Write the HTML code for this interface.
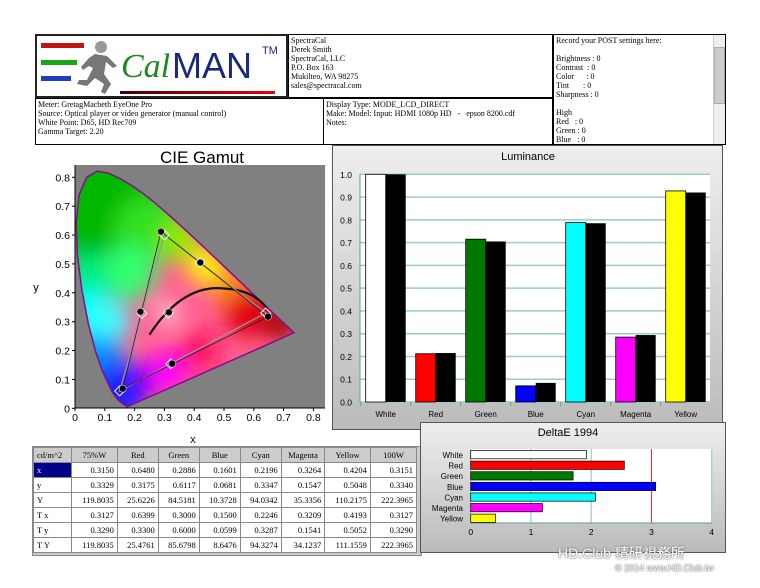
<!DOCTYPE html>
<html><head><meta charset="utf-8">
<style>
body{margin:0;width:760px;height:588px;background:#fff;position:relative;overflow:hidden;font-family:"Liberation Serif",serif;}
.b{position:absolute;border:1px solid #000;box-sizing:border-box;background:#fff;font-size:8px;line-height:9px;padding:1px 2px;color:#000;}
table{border-collapse:collapse;font-family:"Liberation Serif",serif;font-size:8.5px;}
td{border:1px solid #888;height:14px;padding:0 3px;text-align:right;}
</style></head><body>
<div class="b" style="left:35px;top:34px;width:253px;height:64px;border:2px solid #222;padding:0">
 <div style="position:absolute;left:4px;top:7px;width:43px;height:5px;background:#c01414"></div>
 <div style="position:absolute;left:4px;top:24px;width:36px;height:5px;background:#1aa51a"></div>
 <div style="position:absolute;left:4px;top:40px;width:30px;height:5px;background:#1f3fbf"></div>
 <svg style="position:absolute;left:38px;top:4px" width="44" height="56"><circle cx="26" cy="7" r="6" fill="#999"/><path d="M20 14 L32 16 L42 26 L38 28 L31 22 L29 34 L36 44 L30 54 L26 52 L29 44 L20 38 L12 46 L2 44 L4 40 L12 40 L18 28 L14 26 L8 30 L6 27 L14 18Z" fill="#777"/></svg>
 <div style="position:absolute;left:84px;top:11px;font-family:'Liberation Serif',serif;font-style:italic;font-size:34px;color:#1a8a1a;line-height:40px">Cal</div>
 <div style="position:absolute;left:135px;top:10px;font-family:'Liberation Sans',sans-serif;font-size:36px;color:#1a2a7a;line-height:40px">MAN</div>
 <div style="position:absolute;left:225px;top:11px;font-family:'Liberation Sans',sans-serif;font-size:11px;color:#1a2a7a">TM</div>
 <div style="position:absolute;left:83px;top:55px;width:155px;height:3px;background:linear-gradient(90deg,#400,#e00)"></div>
</div>
<div class="b" style="left:288px;top:34px;width:265px;height:64px">SpectraCal<br>Derek Smith<br>SpectraCal, LLC<br>P.O. Box 163<br>Mukilteo, WA 98275<br>sales@spectracal.com</div>
<div class="b" style="left:553px;top:34px;width:173px;height:111px">Record your POST settings here:<br><br>Brightness : 0<br>Contrast &nbsp;: 0<br>Color &nbsp;&nbsp;&nbsp;&nbsp;&nbsp;: 0<br>Tint &nbsp;&nbsp;&nbsp;&nbsp;&nbsp;&nbsp;: 0<br>Sharpness : 0<br><br>High<br>Red &nbsp;&nbsp;: 0<br>Green : 0<br>Blue &nbsp;&nbsp;: 0
 <div style="position:absolute;right:0;top:0;width:11px;height:109px;background:#eee;border-left:1px solid #ccc"><div style="margin-top:12px;height:55px;background:#ccc;border:1px solid #aaa"></div></div></div>
<div class="b" style="left:35px;top:98px;width:289px;height:47px">Meter: GretagMacbeth EyeOne Pro<br>Source: Optical player or video generator (manual control)<br>White Point: D65, HD Rec709<br>Gamma Target: 2.20</div>
<div class="b" style="left:323px;top:98px;width:230px;height:47px">Display Type: MODE_LCD_DIRECT<br>Make: Model: Input: HDMI 1080p HD &nbsp;&nbsp;- &nbsp;&nbsp;epson 8200.cdf<br>Notes:</div>

<svg id="cie" style="position:absolute;left:0;top:0" width="330" height="450"></svg>

<div style="position:absolute;left:332px;top:145px;width:391px;height:285px;border:1px solid #555;box-sizing:border-box;background:linear-gradient(180deg,#eee,#bbb)"></div>
<svg id="lum" style="position:absolute;left:0;top:0" width="760" height="588"></svg>

<div style="position:absolute;left:32px;top:446px;width:388px;height:108px;background:#ccc;border:1px solid #888"></div>
<table style="position:absolute;left:33px;top:447px;width:384px;background:#fff">
<tr style="background:#ccc"><td style="text-align:left">cd/m^2</td><td style="text-align:center">75%W</td><td style="text-align:center">Red</td><td style="text-align:center">Green</td><td style="text-align:center">Blue</td><td style="text-align:center">Cyan</td><td style="text-align:center">Magenta</td><td style="text-align:center">Yellow</td><td style="text-align:center">100W</td></tr>
<tr><td style="text-align:left;background:#00008b;color:#fff">x</td><td>0.3150</td><td>0.6480</td><td>0.2886</td><td>0.1601</td><td>0.2196</td><td>0.3264</td><td>0.4204</td><td>0.3151</td></tr>
<tr><td style="text-align:left">y</td><td>0.3329</td><td>0.3175</td><td>0.6117</td><td>0.0681</td><td>0.3347</td><td>0.1547</td><td>0.5048</td><td>0.3340</td></tr>
<tr><td style="text-align:left">Y</td><td>119.8035</td><td>25.6226</td><td>84.5181</td><td>10.3728</td><td>94.0342</td><td>35.3356</td><td>110.2175</td><td>222.3965</td></tr>
<tr><td style="text-align:left">T x</td><td>0.3127</td><td>0.6399</td><td>0.3000</td><td>0.1500</td><td>0.2246</td><td>0.3209</td><td>0.4193</td><td>0.3127</td></tr>
<tr><td style="text-align:left">T y</td><td>0.3290</td><td>0.3300</td><td>0.6000</td><td>0.0599</td><td>0.3287</td><td>0.1541</td><td>0.5052</td><td>0.3290</td></tr>
<tr><td style="text-align:left">T Y</td><td>119.8035</td><td>25.4761</td><td>85.6798</td><td>8.6476</td><td>94.3274</td><td>34.1237</td><td>111.1559</td><td>222.3965</td></tr>
</table>

<div style="position:absolute;left:420px;top:422px;width:306px;height:131px;border:1px solid #555;box-sizing:border-box;background:linear-gradient(180deg,#eee,#bbb)"></div>
<svg id="de" style="position:absolute;left:0;top:0" width="760" height="588"></svg>

<div style="position:absolute;left:558px;top:543px;font-family:'Liberation Sans','Noto Sans CJK TC',sans-serif;font-size:14px;color:#fff;text-shadow:0 0 2px #666,0 0 1px #666">HD.Club 精研視務所</div>
<div style="position:absolute;left:615px;top:563px;font-family:'Liberation Sans',sans-serif;font-size:9px;color:#fff;text-shadow:0 0 2px #666,0 0 1px #666">© 2014 www.HD.Club.tw</div>

<script>
const NS="http://www.w3.org/2000/svg";
function el(svg,t,a,txt){const e=document.createElementNS(NS,t);for(const k in a)e.setAttribute(k,a[k]);if(txt!==undefined)e.textContent=txt;svg.appendChild(e);return e;}
const c=document.getElementById('cie');
const X=x=>75+x*298, Y=y=>408.3-y*288.75;
c.innerHTML='<defs><clipPath id="cp"><path id="lp"/></clipPath><filter id="bl" x="-50%" y="-50%" width="200%" height="200%"><feGaussianBlur stdDeviation="11"/></filter></defs>';
el(c,'text',{x:202,y:163,'font-family':'Liberation Sans','font-size':17,'text-anchor':'middle'},'CIE Gamut');
el(c,'rect',{x:75,y:165,width:250,height:243,fill:'#808080'});
const L=[[0.1741,0.005],[0.144,0.0297],[0.1241,0.0578],[0.0913,0.1327],[0.0687,0.2007],[0.0454,0.295],[0.0235,0.4127],[0.0082,0.5384],[0.0039,0.6548],[0.0139,0.7502],[0.0389,0.812],[0.0743,0.8338],[0.1142,0.8262],[0.1547,0.8059],[0.1929,0.7816],[0.2296,0.7543],[0.2658,0.7243],[0.3016,0.6923],[0.3373,0.6589],[0.3731,0.6245],[0.4087,0.5896],[0.4441,0.5547],[0.4788,0.5202],[0.5125,0.4866],[0.5448,0.4544],[0.5752,0.4242],[0.6029,0.3965],[0.627,0.3725],[0.6482,0.3514],[0.6658,0.334],[0.6915,0.3083],[0.7347,0.2653]];
const d='M'+L.map(p=>X(p[0]).toFixed(1)+','+Y(p[1]*0.985).toFixed(1)).join('L')+'Z';
document.getElementById('lp').setAttribute('d',d);
const g=el(c,'g',{'clip-path':'url(#cp)'});
el(g,'rect',{x:75,y:165,width:250,height:243,fill:'#ff6090'});
const gb=el(g,'g',{filter:'url(#bl)'});
[[0.1,0.7,65,'#00b800'],[0.25,0.62,35,'#30e020'],[0.35,0.58,20,'#90f000'],[0.18,0.47,28,'#30ff70'],[0.04,0.45,25,'#00f080'],[0.04,0.32,28,'#00ffff'],[0.12,0.3,20,'#40ffff'],[0.08,0.17,24,'#0090ff'],[0.15,0.06,30,'#1020ff'],[0.22,0.1,18,'#5000ff'],[0.31,0.13,20,'#ff00ff'],[0.44,0.49,18,'#ffff00'],[0.52,0.42,16,'#ff9000'],[0.58,0.33,24,'#e00010'],[0.69,0.29,16,'#900000'],[0.31,0.33,10,'#ffffff'],[0.42,0.2,20,'#ff1060']].forEach(p=>el(gb,'circle',{cx:X(p[0]),cy:Y(p[1]),r:p[2],fill:p[3]}));
el(c,'path',{d:d,fill:'none',stroke:'#8a0a8a','stroke-width':1.5});
el(c,'line',{x1:75,y1:408,x2:325,y2:408,stroke:'#000'});
el(c,'line',{x1:75,y1:165,x2:75,y2:408,stroke:'#000'});
for(let i=0;i<=8;i++){const v=i/10;el(c,'text',{x:X(v),y:421,'font-family':'Liberation Sans','font-size':10.5,'text-anchor':'middle'},i==0?'0':v.toFixed(1));el(c,'line',{x1:X(v),y1:408,x2:X(v),y2:411,stroke:'#000'});
el(c,'text',{x:70,y:Y(v)+4,'font-family':'Liberation Sans','font-size':10.5,'text-anchor':'end'},i==0?'0':v.toFixed(1));el(c,'line',{x1:72,y1:Y(v),x2:75,y2:Y(v),stroke:'#000'});}
el(c,'text',{x:193,y:443,'font-family':'Liberation Sans','font-size':11,'text-anchor':'middle'},'x');
el(c,'text',{x:36,y:291,'font-family':'Liberation Sans','font-size':11,'text-anchor':'middle'},'y');
el(c,'path',{d:`M${X(0.25)},${Y(0.255)} Q${X(0.36)},${Y(0.43)} ${X(0.5)},${Y(0.415)} Q${X(0.6)},${Y(0.41)} ${X(0.645)},${Y(0.345)}`,fill:'none',stroke:'#111','stroke-width':2.2});
const M={r:[0.648,0.3175],g:[0.2886,0.6117],b:[0.1601,0.0681],c:[0.2196,0.3347],m:[0.3264,0.1547],y:[0.4204,0.5048],w:[0.315,0.3329]};
const T={r:[0.64,0.33],g:[0.3,0.6],b:[0.15,0.06],c:[0.2246,0.3287],m:[0.3209,0.1541],y:[0.4193,0.5052],w:[0.3127,0.329]};
const tri=o=>`M${X(o.r[0])},${Y(o.r[1])}L${X(o.g[0])},${Y(o.g[1])}L${X(o.b[0])},${Y(o.b[1])}Z`;
el(c,'path',{d:tri(T),fill:'none',stroke:'#999','stroke-width':1.2});
el(c,'path',{d:tri(M),fill:'none',stroke:'#222','stroke-width':0.8});
for(const k in T){const x=X(T[k][0]),y=Y(T[k][1]);el(c,'path',{d:`M${x-5},${y}L${x},${y-5}L${x+5},${y}L${x},${y+5}Z`,fill:'none',stroke:'#eee','stroke-width':1});}
for(const k in M){el(c,'circle',{cx:X(M[k][0]),cy:Y(M[k][1]),r:3.5,fill:'#000',stroke:'#ddd','stroke-width':0.6});}
const l=document.getElementById('lum');
el(l,'text',{x:528,y:160,'font-family':'Liberation Sans','font-size':11,'text-anchor':'middle'},'Luminance');
el(l,'rect',{x:360,y:174,width:350,height:228,fill:'#fff'});
const LY=v=>402-v*227.7;
for(let i=0;i<=10;i++){const v=i/10;el(l,'line',{x1:360,y1:LY(v),x2:710,y2:LY(v),stroke:'#9cc',"stroke-width":1.5});el(l,'text',{x:352,y:LY(v)+3.5,'font-family':'Liberation Sans','font-size':8.5,'text-anchor':'end'},v.toFixed(1));}
el(l,'line',{x1:360,y1:174,x2:360,y2:402,stroke:'#699'});
const bars=[['White','#fff',1,1],['Red','#f00',0.212,0.215],['Green','#007800',0.715,0.705],['Blue','#0000ff',0.071,0.084],['Cyan','#0ff',0.788,0.785],['Magenta','#f0f',0.285,0.294],['Yellow','#ff0',0.927,0.92]];
bars.forEach((b,i)=>{const x0=365.7+i*50;el(l,'rect',{x:x0,y:LY(b[2]),width:20,height:b[2]*227.7,fill:b[1],stroke:'#000','stroke-width':0.8});el(l,'rect',{x:x0+20,y:LY(b[3]),width:20,height:b[3]*227.7,fill:'#000'});
el(l,'text',{x:x0+20,y:417,'font-family':'Liberation Sans','font-size':8,'text-anchor':'middle'},b[0]);el(l,'line',{x1:x0-5,y1:402,x2:x0-5,y2:406,stroke:'#699'});});
const e=document.getElementById('de');
el(e,'text',{x:568,y:436,'font-family':'Liberation Sans','font-size':11,'text-anchor':'middle'},'DeltaE 1994');
el(e,'rect',{x:471,y:449,width:241,height:74,fill:'#fff'});
const DX=v=>470.7+v*60.25;
for(let i=0;i<=4;i++){el(e,'line',{x1:DX(i),y1:449,x2:DX(i),y2:523,stroke:i==3?'#c33':'#9cc','stroke-width':i==3?1:1.2});el(e,'text',{x:DX(i),y:535,'font-family':'Liberation Sans','font-size':8.5,'text-anchor':'middle'},i);}
el(e,'line',{x1:471,y1:523,x2:712,y2:523,stroke:'#699'});
const de=[['White','#fff',1.92],['Red','#f00',2.55],['Green','#007800',1.7],['Blue','#0000ff',3.07],['Cyan','#0ff',2.07],['Magenta','#f0f',1.19],['Yellow','#ff0',0.41]];
de.forEach((b,i)=>{const y=450+i*10.6;el(e,'rect',{x:DX(0),y:y+0.5,width:b[2]*60.25,height:8.3,fill:b[1],stroke:'#000','stroke-width':0.7});el(e,'text',{x:463,y:y+8,'font-family':'Liberation Sans','font-size':8,'text-anchor':'end'},b[0]);});
</script>
</body></html>
